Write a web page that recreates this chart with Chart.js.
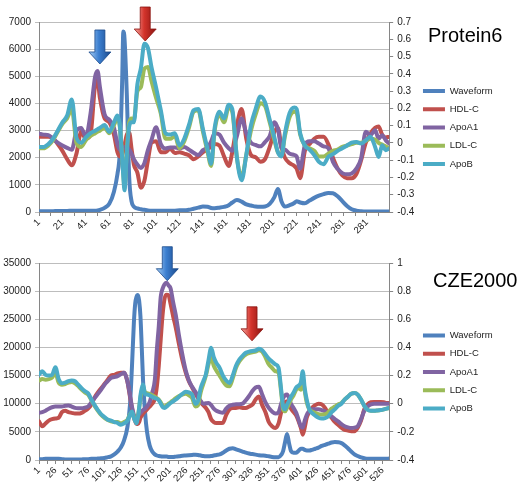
<!DOCTYPE html>
<html>
<head>
<meta charset="utf-8">
<title>Protein6 / CZE2000</title>
<script src="https://cdn.jsdelivr.net/npm/chart.js@4.4.1/dist/chart.umd.min.js"></script>
<style>
  html, body { margin: 0; padding: 0; background: #fff; }
  #page { position: relative; width: 517px; height: 483px; overflow: hidden; font-family: "Liberation Sans", Arial, sans-serif; }
  canvas { position: absolute; left: 0; }
  #topChart { top: 0; width: 517px; height: 243px; }
  #bottomChart { top: 243px; width: 517px; height: 240px; }
  .name { position: absolute; font-size: 20px; line-height: 20px; color: #000; white-space: nowrap; }
</style>
</head>
<body>
<div id="page">
  <canvas id="topChart" width="517" height="243"></canvas>
  <canvas id="bottomChart" width="517" height="240"></canvas>
  <div class="name" style="left:428px; top:25px;">Protein6</div>
  <div class="name" style="left:433px; top:270px;">CZE2000</div>
</div>
<script>
const seriesNames = ['Waveform', 'HDL-C', 'ApoA1', 'LDL-C', 'ApoB'];
const seriesColors = ['#4F81BD', '#C0504D', '#8064A2', '#9BBB59', '#4BACC6'];

// ---- Protein6 (waveform on left axis, correlations on right axis) ----
const protein6X = [1,5,9,13,17,21,25,29,33,37,
  41,45,49,51,53,57,61,65,68,70,
  72,73,74,76,78,80,82,85,88,91,
  94,97,101,105,109,113,117,121,125,129,
  133,137,141,145,148,151,155,159,163,166,
  170,174,178,182,186,190,194,198,202,205,
  208,211,215,219,221,224,228,232,236,240,
  244,248,252,256,260,264,268,272,276,280,
  284,288,291,294,297,300];
const protein6Waveform = [30,30,30,30,40,40,40,50,50,50,
  50,50,50,60,80,150,300,750,1400,2200,
  4800,6650,6400,4300,1300,400,200,130,100,80,
  60,50,50,50,50,50,50,60,60,80,
  120,160,200,190,150,140,160,190,250,350,
  440,380,280,240,200,190,200,300,550,850,
  400,200,250,330,400,350,320,420,520,600,
  660,700,690,580,400,220,100,50,30,20,
  20,20,20,20,20,20];
const protein6HDL = [0.035,0.035,0.035,0.027,-0.007,-0.046,-0.094,-0.130,-0.062,0.064,
  0.024,0.048,0.339,0.362,0.260,0.142,0.119,0.048,-0.054,-0.078,
  -0.070,-0.046,-0.015,0.048,0.060,-0.032,-0.125,-0.172,-0.259,-0.219,
  -0.101,0.001,0.009,-0.054,-0.054,-0.034,-0.059,-0.054,-0.062,-0.072,
  -0.094,-0.078,-0.054,-0.035,-0.023,-0.007,-0.015,-0.078,-0.133,-0.054,
  0.103,0.197,0.024,-0.070,-0.083,-0.109,-0.094,-0.023,0.064,0.087,
  -0.023,-0.086,-0.117,-0.133,-0.149,-0.204,-0.046,-0.007,0.024,0.035,
  0.035,-0.007,-0.086,-0.149,-0.188,-0.204,-0.204,-0.180,-0.101,0.001,
  0.054,0.087,0.095,0.048,0.032,0.035];
const protein6ApoA1 = [0.054,0.048,0.045,0.024,0.001,-0.015,-0.029,-0.040,0.071,0.087,
  0.037,0.170,0.386,0.417,0.323,0.166,0.134,0.087,-0.007,-0.039,
  -0.039,-0.031,-0.023,-0.031,-0.039,-0.062,-0.094,-0.125,-0.145,-0.117,
  -0.042,0.016,0.090,-0.007,-0.032,-0.026,-0.026,-0.032,-0.023,-0.039,
  -0.057,-0.070,-0.042,-0.026,0.009,0.056,0.048,0.001,-0.031,-0.046,
  0.040,0.141,0.056,0.001,-0.012,-0.020,0.005,0.040,0.120,0.080,
  -0.030,-0.039,-0.062,-0.070,-0.078,-0.149,-0.013,0.009,0.009,-0.004,
  -0.020,-0.030,-0.110,-0.150,-0.175,-0.182,-0.177,-0.149,-0.090,0.064,
  0.045,0.073,0.024,0.045,0.016,-0.004];
const protein6LDL = [-0.031,-0.031,-0.015,0.016,0.064,0.111,0.142,0.197,0.000,-0.023,
  0.016,0.040,0.056,0.064,0.071,0.087,0.056,0.103,0.142,0.095,
  -0.078,-0.180,-0.259,-0.039,0.119,0.142,0.134,0.299,0.323,0.430,
  0.440,0.360,0.260,0.170,0.024,0.024,0.040,-0.031,0.009,0.087,
  0.181,0.189,0.064,-0.054,-0.133,0.071,0.166,0.119,0.205,0.181,
  -0.086,-0.196,-0.070,0.071,0.166,0.229,0.213,0.119,0.016,-0.054,
  -0.070,0.040,0.150,0.181,0.174,0.048,-0.015,-0.031,-0.046,-0.078,
  -0.078,-0.062,-0.046,-0.039,-0.023,-0.015,-0.007,0.001,0.001,0.012,
  0.024,0.020,0.000,-0.010,-0.020,-0.030];
const protein6ApoB = [-0.023,-0.023,-0.007,0.024,0.071,0.119,0.158,0.252,0.030,0.001,
  0.032,0.056,0.071,0.079,0.087,0.103,0.064,0.119,0.158,0.103,
  -0.086,-0.196,-0.274,-0.054,0.095,0.119,0.119,0.339,0.433,0.574,
  0.550,0.440,0.320,0.190,0.056,0.048,0.056,-0.015,0.024,0.103,
  0.189,0.197,0.079,-0.039,-0.120,0.087,0.181,0.142,0.221,0.197,
  -0.086,-0.216,-0.070,0.103,0.197,0.268,0.236,0.134,0.032,-0.054,
  -0.078,0.056,0.174,0.205,0.197,0.056,-0.015,-0.039,-0.070,-0.109,
  -0.123,-0.081,-0.065,-0.046,-0.031,-0.015,0.001,0.005,-0.004,0.015,
  0.035,-0.023,-0.081,-0.013,-0.042,-0.032];
const protein6XTicks = [1,21,41,61,81,101,121,141,161,181,201,221,241,261,281];
// arrows point at a category and a value on the right axis
const protein6Arrows = [{x: 53, y: 0.457, shade: 'blue'}, {x: 91.7, y: 0.59, shade: 'red'}];

// ---- CZE2000 ----
const cze2000X = [1,6,11,16,21,26,31,36,41,46,
  51,56,61,66,71,76,81,86,91,96,
  101,106,111,116,121,126,131,136,140,143,
  146,148,150,152,154,156,158,160,163,166,
  170,174,178,181,184,187,190,193,196,199,
  202,206,210,215,220,225,230,235,240,244,
  248,252,256,260,264,268,272,277,282,287,
  292,297,302,307,312,317,322,327,332,337,
  342,347,352,357,362,367,371,374,377,380,
  383,386,390,394,398,401,404,407,410,414,
  418,423,428,433,438,443,448,453,458,463,
  468,473,478,483,488,493,498,503,508,513,
  518,523,528,532,536];
const cze2000Waveform = [150,150,200,200,200,200,200,150,100,100,
  100,100,100,100,150,150,200,200,250,300,
  350,500,650,1000,1500,2200,3500,5800,9800,16500,
  24500,27800,29000,29300,28300,25500,20000,14000,8500,5000,
  2600,1500,1000,800,700,650,600,600,600,550,
  550,550,600,650,750,800,850,900,950,900,
  800,700,650,650,700,800,900,1000,1300,1700,
  2000,2100,1900,1700,1500,1300,1150,1050,950,850,
  800,750,650,550,500,500,900,1600,3200,4600,
  3000,1600,1300,1300,1700,2000,2000,1800,1700,1700,
  1800,2000,2200,2500,2700,2900,3100,3200,3150,3000,
  2600,2100,1500,1000,700,450,300,200,200,200,
  200,200,200,200,250];
const cze2000HDL = [-0.125,-0.16,-0.14,-0.12,-0.11,-0.105,-0.1,-0.06,-0.05,-0.06,
  -0.065,-0.07,-0.07,-0.065,-0.05,-0.035,-0.005,0.045,0.08,0.11,
  0.14,0.17,0.2,0.205,0.215,0.22,0.22,0.16,0.05,-0.03,
  -0.1,-0.125,-0.145,-0.145,-0.13,-0.1,-0.085,-0.07,-0.055,-0.04,
  -0.02,0.0,0.035,0.12,0.27,0.46,0.64,0.75,0.775,0.77,
  0.71,0.62,0.54,0.42,0.31,0.225,0.16,0.115,0.07,0.04,
  0.01,-0.01,-0.03,-0.06,-0.11,-0.13,-0.137,-0.137,-0.135,-0.08,
  -0.04,-0.03,-0.03,-0.025,-0.03,-0.03,-0.02,-0.007,0.03,0.052,
  -0.01,-0.06,-0.13,-0.16,-0.172,-0.14,-0.06,-0.01,0.01,0.017,
  -0.01,-0.035,-0.06,-0.085,-0.13,-0.17,-0.22,-0.17,-0.1,-0.06,
  -0.03,-0.01,0.0,-0.005,-0.03,-0.07,-0.1,-0.13,-0.15,-0.17,
  -0.186,-0.19,-0.195,-0.195,-0.17,-0.12,-0.04,-0.005,0.01,0.012,
  0.012,0.012,0.01,0.005,0.005];
const cze2000ApoA1 = [-0.065,-0.06,-0.05,-0.035,-0.025,-0.02,-0.02,-0.02,-0.015,-0.012,
  -0.02,-0.03,-0.032,-0.032,-0.028,-0.02,0.01,0.04,0.07,0.1,
  0.135,0.16,0.184,0.19,0.196,0.21,0.22,0.16,0.06,-0.02,
  -0.08,-0.1,-0.095,-0.085,-0.075,-0.065,-0.055,-0.045,-0.035,-0.02,
  0.01,0.08,0.17,0.38,0.55,0.76,0.82,0.85,0.86,0.84,
  0.82,0.72,0.63,0.48,0.35,0.24,0.165,0.12,0.085,0.05,
  0.02,0.0,0.003,0.005,-0.01,-0.035,-0.05,-0.06,-0.065,-0.035,
  -0.015,-0.007,-0.003,-0.003,0.0,0.025,0.055,0.09,0.115,0.12,
  0.065,0.01,-0.03,-0.055,-0.07,-0.06,0.0,0.04,0.06,0.065,
  0.04,0.0,-0.03,-0.065,-0.12,-0.16,-0.17,-0.12,-0.08,-0.05,
  -0.04,-0.04,-0.04,-0.045,-0.054,-0.07,-0.09,-0.11,-0.125,-0.145,
  -0.16,-0.168,-0.172,-0.17,-0.16,-0.11,-0.05,-0.02,-0.005,0.0,
  0.0,0.0,0.0,0.0,0.0];
const cze2000LDL = [0.165,0.175,0.17,0.175,0.185,0.22,0.15,0.135,0.14,0.15,
  0.155,0.145,0.125,0.1,0.08,0.065,0.025,-0.015,-0.05,-0.08,
  -0.1,-0.115,-0.125,-0.13,-0.13,-0.14,-0.13,-0.115,-0.075,-0.06,
  -0.095,-0.12,-0.13,-0.09,-0.03,0.04,0.09,0.12,0.08,0.075,
  0.07,0.06,0.05,0.04,0.03,0.01,-0.015,-0.02,-0.01,0.0,
  0.01,0.025,0.04,0.055,0.065,0.07,0.06,0.04,-0.02,-0.01,
  0.08,0.14,0.2,0.28,0.33,0.27,0.235,0.2,0.16,0.13,
  0.124,0.18,0.255,0.3,0.33,0.35,0.36,0.365,0.37,0.38,
  0.37,0.33,0.28,0.255,0.231,0.22,0.08,-0.04,-0.054,-0.03,
  0.0,0.03,0.06,0.1,0.11,0.1,0.18,0.09,0.01,-0.04,
  -0.055,-0.065,-0.075,-0.077,-0.075,-0.06,-0.035,-0.02,-0.005,0.005,
  0.03,0.05,0.07,0.076,0.065,0.03,-0.015,-0.043,-0.05,-0.05,
  -0.048,-0.045,-0.04,-0.035,-0.03];
const cze2000ApoB = [0.207,0.23,0.205,0.2,0.205,0.26,0.175,0.145,0.15,0.16,
  0.165,0.16,0.135,0.11,0.09,0.075,0.03,-0.01,-0.045,-0.075,
  -0.095,-0.113,-0.12,-0.13,-0.137,-0.15,-0.14,-0.12,-0.08,-0.055,
  -0.1,-0.125,-0.14,-0.1,-0.03,0.06,0.11,0.136,0.07,0.065,
  0.06,0.05,0.04,0.035,0.025,0.0,-0.025,-0.03,-0.02,-0.007,
  0.005,0.017,0.03,0.05,0.07,0.085,0.08,0.065,0.0,0.02,
  0.11,0.16,0.21,0.31,0.397,0.33,0.29,0.255,0.2,0.165,
  0.148,0.2,0.27,0.314,0.34,0.362,0.37,0.375,0.378,0.39,
  0.38,0.35,0.32,0.3,0.28,0.255,0.1,-0.02,-0.04,-0.007,
  0.02,0.05,0.08,0.115,0.13,0.15,0.231,0.11,0.03,-0.04,
  -0.065,-0.085,-0.1,-0.105,-0.102,-0.09,-0.06,-0.04,-0.015,0.0,
  0.03,0.05,0.07,0.076,0.065,0.03,-0.015,-0.043,-0.05,-0.05,
  -0.048,-0.045,-0.04,-0.035,-0.03];
const cze2000XTicks = [1,26,51,76,101,126,151,176,201,226,251,276,301,326,351,376,401,426,451,476,501,526];
const cze2000Arrows = [{x: 197, y: 0.874, shade: 'blue'}, {x: 326.5, y: 0.447, shade: 'red'}];

const arrowShades = {
  blue: ['#A9D0F5', '#3C7FD0', '#1B4A8C'],
  red: ['#F5A8A2', '#D4342C', '#8A130F']
};

function drawArrow(ctx, cx, tipY, shade) {
  const len = 34, shaftW = 10, headW = 22, headL = 12;
  const top = tipY - len, neck = tipY - headL;
  const c = arrowShades[shade];
  const g = ctx.createLinearGradient(cx - headW / 2, 0, cx + headW / 2, 0);
  g.addColorStop(0, c[0]);
  g.addColorStop(0.45, c[1]);
  g.addColorStop(1, c[2]);
  ctx.save();
  ctx.beginPath();
  ctx.moveTo(cx - shaftW / 2, top);
  ctx.lineTo(cx + shaftW / 2, top);
  ctx.lineTo(cx + shaftW / 2, neck);
  ctx.lineTo(cx + headW / 2, neck);
  ctx.lineTo(cx, tipY);
  ctx.lineTo(cx - headW / 2, neck);
  ctx.lineTo(cx - shaftW / 2, neck);
  ctx.closePath();
  ctx.fillStyle = g;
  ctx.fill();
  ctx.strokeStyle = c[2];
  ctx.lineWidth = 0.8;
  ctx.stroke();
  ctx.restore();
}

const arrowPlugin = {
  id: 'arrows',
  afterDatasetsDraw(chart, args, opts) {
    (opts.items || []).forEach(function(a) {
      const cx = chart.scales.x.getPixelForValue(a.x);
      const tip = chart.scales.y2.getPixelForValue(a.y);
      drawArrow(chart.ctx, cx, tip, a.shade);
    });
  }
};

// nudge the legend column up/down
const legendShift = {
  id: 'legendShift',
  afterLayout(chart, args, opts) {
    const lg = chart.legend;
    if (!lg || !opts.dy) return;
    lg.top += opts.dy;
    lg.bottom += opts.dy;
  }
};

Chart.defaults.font.family = '"Liberation Sans", Arial, sans-serif';
Chart.defaults.font.size = 10;
Chart.defaults.color = '#222';

const gridGray = '#BDBDBD';
const axisGray = '#868686';

function makeChart(id, o) {
  const ctx = document.getElementById(id).getContext('2d');
  const datasets = seriesNames.map(function(name, i) {
    return {
      label: name,
      data: o.x.map(function(x, j) { return {x: x, y: o.series[i][j]}; }),
      yAxisID: i === 0 ? 'y' : 'y2',
      borderColor: seriesColors[i],
      backgroundColor: seriesColors[i],
      borderWidth: 4,
      pointRadius: 0,
      cubicInterpolationMode: 'monotone',
      borderCapStyle: 'round',
      borderJoinStyle: 'round',
      order: seriesNames.length - i   // later series drawn on top, like Excel
    };
  });

  // labelled ticks plus a minor tick halfway between
  const step = o.xTicks[1] - o.xTicks[0];
  const allTicks = [];
  o.xTicks.forEach(function(t) {
    allTicks.push(t);
    if (t + step / 2 <= o.xMax) allTicks.push(t + step / 2);
  });

  return new Chart(ctx, {
    type: 'line',
    data: { datasets: datasets },
    plugins: [legendShift, arrowPlugin],
    options: {
      responsive: false,
      animation: false,
      devicePixelRatio: 1,
      layout: { padding: { top: o.padTop, right: 20, left: 0, bottom: 0 } },
      scales: {
        x: {
          type: 'linear',
          min: 1,
          max: o.xMax,
          afterBuildTicks: function(s) { s.ticks = allTicks.map(function(v) { return {value: v}; }); },
          afterFit: function(s) { s.height = o.xHeight; },
          ticks: {
            autoSkip: false,
            minRotation: 45,
            maxRotation: 45,
            padding: 1,
            font: { size: 9.5 },
            callback: function(v) { return o.xTicks.indexOf(v) >= 0 ? String(v) : ''; }
          },
          grid: { drawOnChartArea: false, drawTicks: true, tickLength: 4, color: axisGray },
          border: { color: axisGray }
        },
        y: {
          position: 'left',
          min: 0,
          max: o.yMax,
          afterFit: function(s) { s.width = 39; },
          ticks: { stepSize: o.yStep, padding: 4, callback: function(v) { return String(v); } },
          grid: { color: gridGray, tickLength: 4 },
          border: { color: axisGray }
        },
        y2: {
          position: 'right',
          min: -0.4,
          max: o.y2Max,
          afterFit: function(s) { s.width = 25; },
          ticks: { stepSize: o.y2Step, padding: 4, callback: function(v) { return String(Math.round(v * 10) / 10); } },
          grid: { drawOnChartArea: false, tickLength: 4, color: axisGray },
          border: { color: axisGray }
        }
      },
      plugins: {
        legend: {
          position: 'right',
          labels: {
            boxWidth: 22,
            boxHeight: 4,
            padding: 8.8,
            font: { size: 9.5 },
            sort: function(a, b) { return a.datasetIndex - b.datasetIndex; },
            generateLabels: function(chart) {
              return Chart.defaults.plugins.legend.labels.generateLabels(chart).map(function(it) {
                it.lineWidth = 0;
                return it;
              });
            }
          }
        },
        tooltip: { enabled: false },
        legendShift: { dy: o.legendDy },
        arrows: { items: o.arrows }
      }
    }
  });
}

makeChart('topChart', {
  x: protein6X,
  series: [protein6Waveform, protein6HDL, protein6ApoA1, protein6LDL, protein6ApoB],
  xTicks: protein6XTicks,
  xMax: 300,
  yMax: 7000, yStep: 1000,
  y2Max: 0.7, y2Step: 0.1,
  padTop: 22, xHeight: 31,
  legendDy: -5,
  arrows: protein6Arrows
});

makeChart('bottomChart', {
  x: cze2000X,
  series: [cze2000Waveform, cze2000HDL, cze2000ApoA1, cze2000LDL, cze2000ApoB],
  xTicks: cze2000XTicks,
  xMax: 536,
  yMax: 35000, yStep: 5000,
  y2Max: 1, y2Step: 0.2,
  padTop: 20, xHeight: 23,
  legendDy: -1,
  arrows: cze2000Arrows
});
</script>
</body>
</html>
